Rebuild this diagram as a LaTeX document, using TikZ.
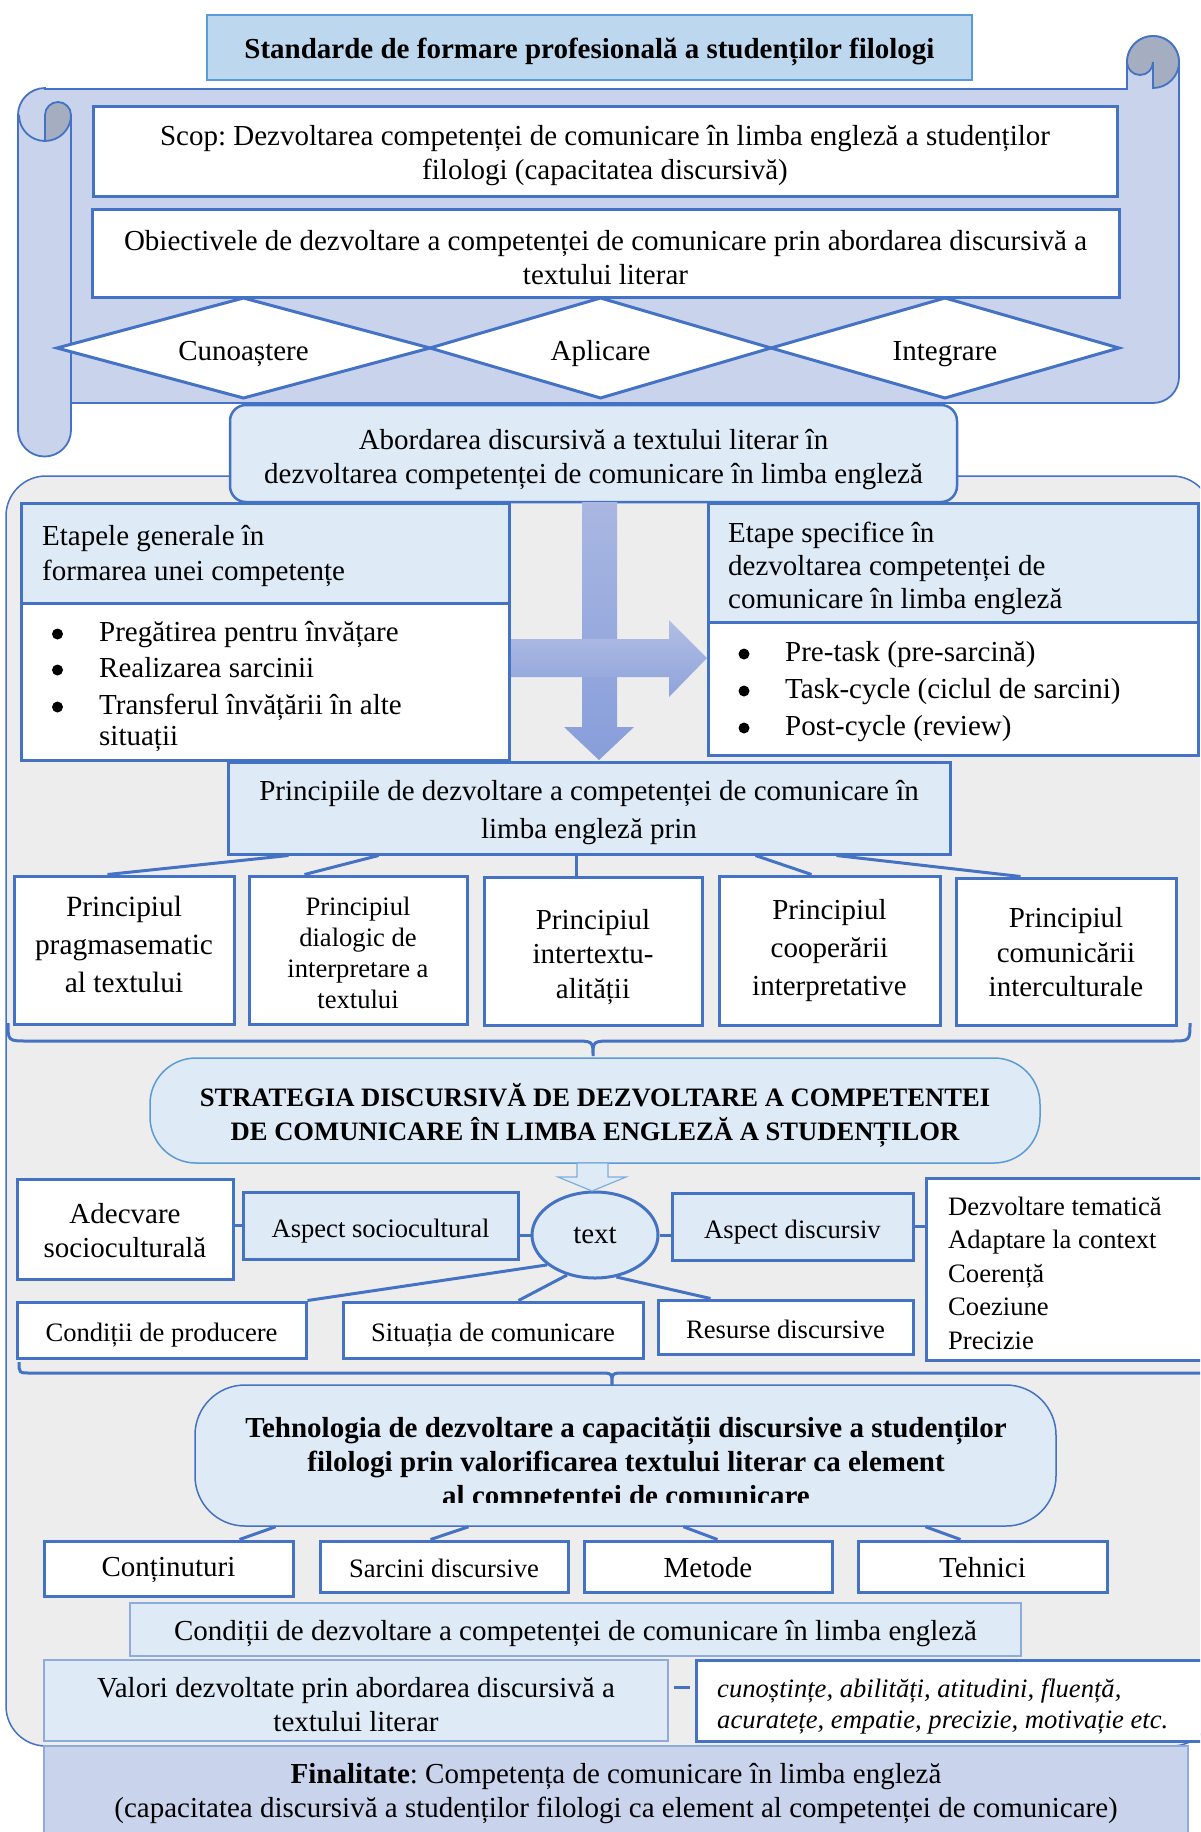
\documentclass[tikz,border=0pt]{standalone}
\usepackage{fontspec}
\setmainfont{Liberation Serif}
\usetikzlibrary{shapes.geometric,calc}

\definecolor{bl}{HTML}{4472C4}
\definecolor{lb}{HTML}{DEEAF6}
\definecolor{titlefill}{HTML}{BDD7EE}
\definecolor{scrollfill}{HTML}{C9D4EC}
\definecolor{curlgray}{HTML}{A5AEC1}
\definecolor{panelgray}{HTML}{EDEDED}
\definecolor{softbl}{HTML}{8FAADC}
\definecolor{midbl}{HTML}{5B9BD5}
\definecolor{arrtop}{HTML}{A9B7E1}
\definecolor{arrbot}{HTML}{889EDA}

\frenchspacing
\newcommand\fontA{\fontsize{29}{34}\selectfont}
\newcommand\fontB{\fontsize{26.6}{33}\selectfont}

% box given by its corners, with its text set slightly below the centre:
% [text offset], style, name, x1, y1, x2, y2, text
\newcommand\boxat[8][4.5]{%
  \pgfmathsetmacro\bxcx{(#4+#6)/2}%
  \pgfmathsetmacro\bxcy{(#5+#7)/2}%
  \pgfmathsetmacro\bxw{#6-#4}%
  \pgfmathsetmacro\bxh{#7-#5}%
  \node[#2, minimum width=\bxw pt, minimum height=\bxh pt] (#3) at (\bxcx,\bxcy) {};
  \node[#2, draw=none, fill=none, minimum width=0pt, minimum height=0pt] (#3-label) at (\bxcx,{\bxcy+(#1)}) {#8};}

% diamond given by its centre, half width and half height: name, cx, cy, hw, hh, text
\newcommand\diamat[6]{%
  \draw[diabox] ($(#2,#3)+(-#4,0)$) -- ($(#2,#3)+(0,-#5)$) -- ($(#2,#3)+(#4,0)$) -- ($(#2,#3)+(0,#5)$) -- cycle;
  \node[inner sep=0pt, font=\fontA] (#1) at (#2,#3+6) {#6};}

% bulleted line: name, bullet x, text x, baseline y, text
\newcommand\bulletline[5]{%
  \fill (#2,#4-7) circle[radius=5.5pt];
  \node[txt] (#1) at (#3,#4) {#5};}

\begin{document}
\begin{tikzpicture}[x=1pt,y=-1pt,
  wbox/.style={draw=bl, line width=3pt, fill=white, inner sep=0pt, align=center, font=\fontA},
  lbox/.style={wbox, fill=lb},
  thinbox/.style={lbox, draw=softbl, line width=1.5pt},
  diabox/.style={draw=bl, line width=3pt, fill=white, line join=miter},
  link/.style={draw=bl, line width=3pt},
  txt/.style={inner sep=0pt, align=left, font=\fontA, anchor=base west}]

\useasboundingbox (0,0) rectangle (1200,1832);
\clip (0,0) rectangle (1200,1832);

% ---------- scroll ----------
\draw[fill=scrollfill, draw=bl, line width=1.8pt]
  (45,89) -- (1127,89) -- (1127,62) arc[start angle=180, end angle=0, radius=26pt]
  -- (1179,377) arc[start angle=0, end angle=-90, radius=26pt]
  -- (71,403) -- (71,430) arc[start angle=0, end angle=-180, radius=26.5pt]
  -- (18,115) arc[start angle=180, end angle=90, radius=27pt] -- cycle;
% right curl
\draw[fill=curlgray, draw=bl, line width=1.8pt]
  (1127,62) arc[start angle=180, end angle=0, radius=26pt]
  arc[start angle=0, end angle=-90, radius=26pt] -- (1153,62)
  arc[start angle=0, end angle=-180, radius=13pt] -- cycle;
% left curl
\draw[fill=curlgray, draw=bl, line width=1.8pt]
  (45,141) -- (45,115) arc[start angle=180, end angle=0, radius=13pt]
  arc[start angle=0, end angle=-90, radius=26pt] -- cycle;
\draw[draw=bl, line width=1.8pt] (45,141) arc[start angle=-90, end angle=-180, radius=26pt];
\draw[draw=bl, line width=1.8pt] (71,115) -- (71,403);

\boxat[4.7]{wbox, fill=titlefill, draw=midbl, line width=2pt, font=\bfseries\fontsize{29}{34}\selectfont}{title}{207}{15}{972}{80}{Standarde de formare profesională a studenților filologi}

\boxat{wbox}{scop}{93}{106}{1117}{196}{Scop: Dezvoltarea competenței de comunicare în limba engleză a studenților\\filologi (capacitatea discursivă)}
\boxat{wbox}{obj}{92}{209}{1119}{297}{Obiectivele de dezvoltare a competenței de comunicare prin abordarea discursivă a\\textului literar}

\diamat{d1}{243.5}{348}{186.5}{50}{Cunoaștere}
\diamat{d2}{600.5}{348}{170.5}{50}{Aplicare}
\diamat{d3}{945}{348}{174}{50}{Integrare}

% ---------- grey panel ----------
\draw[fill=panelgray, draw=bl, line width=1.5pt, rounded corners=40pt]
  (6,1746) -- (6,476) -- (1212,476) -- (1212,1746) -- cycle;

\boxat[6]{lbox, rounded corners=16pt, line width=2.5pt}{abord}{230}{405}{957}{502}{Abordarea discursivă a textului literar în\\dezvoltarea competenței de comunicare în limba engleză}

% ---------- cross arrow ----------
\shade[top color=arrtop, bottom color=arrbot]
  (582,502) -- (617,502) -- (617,727) -- (634,727) -- (599,760) -- (564,727) -- (582,727) -- cycle;
\shade[top color=arrtop!90!white, bottom color=arrbot!80!arrtop]
  (509,639) -- (669,639) -- (669,620) -- (707,658) -- (669,697) -- (669,677) -- (509,677) -- cycle;

% ---------- stage blocks ----------
\boxat{lbox}{genhead}{21}{503}{509}{603}{}
\boxat{wbox}{genbody}{21}{603}{509}{760}{}
\node[inner sep=0pt, align=left, font=\fontsize{29}{35}\selectfont, anchor=west] (gh) at (42,556)
  {Etapele generale în\\formarea unei competențe};
\bulletline{gb1}{57.5}{99}{641}{Pregătirea pentru învățare}
\bulletline{gb2}{57.5}{99}{677}{Realizarea sarcinii}
\bulletline{gb3}{57.5}{99}{714}{Transferul învățării în alte}
\node[txt] (gb4) at (99,745) {situații};

\boxat{lbox}{spechead}{708}{503}{1198}{622}{}
\boxat{wbox}{specbody}{708}{622}{1198}{755}{}
\node[txt] (sh1) at (728,542) {Etape specifice în};
\node[txt] (sh2) at (728,575) {dezvoltarea competenței de};
\node[txt] (sh3) at (728,608) {comunicare în limba engleză};
\bulletline{sb1}{744}{785}{661}{Pre-task (pre-sarcină)}
\bulletline{sb2}{744}{785}{698}{Task-cycle (ciclul de sarcini)}
\bulletline{sb3}{744}{785}{735}{Post-cycle (review)}

% ---------- principles ----------
\boxat{lbox, font=\fontsize{29}{38}\selectfont}{princ}{228}{762}{950}{854}{Principiile de dezvoltare a competenței de comunicare în\\limba engleză prin}

\boxat[-6]{wbox, font=\fontsize{29.4}{38}\selectfont}{p1}{14}{876}{234}{1024}{Principiul\\pragmasematic\\al textului}
\boxat[3]{wbox, font=\fontsize{26.6}{31}\selectfont}{p2}{249}{876}{467}{1024}{Principiul\\dialogic de\\interpretare a\\textului}
\boxat[6]{wbox, font=\fontsize{29}{34.5}\selectfont}{p3}{484}{877}{702}{1025}{Principiul\\intertextu-\\alității}
\boxat[0]{wbox, font=\fontsize{29}{38}\selectfont}{p4}{719}{876}{940}{1025}{Principiul\\cooperării\\interpretative}
\boxat[1]{wbox, font=\fontsize{29}{34.5}\selectfont}{p5}{956}{878}{1176}{1025}{Principiul\\comunicării\\interculturale}

\draw[link] ($(princ.south west)+(62,0)$) -- ($(p1.north west)+(95,0)$);
\draw[link] ($(princ.south west)+(152,0)$) -- ($(p2.north west)+(57,0)$);
\draw[link] ($(princ.south west)+(350,0)$) -- ($(p3.north west)+(94,0)$);
\draw[link] ($(princ.south west)+(529,0)$) -- ($(p4.north west)+(94,0)$);
\draw[link] ($(princ.south west)+(610,0)$) -- ($(p5.north west)+(66,0)$);

% brace under the principles
\draw[draw=bl, line width=3pt]
  (8,1023) .. controls (8,1041) .. (28,1041) -- (573,1041)
  .. controls (593,1041) .. (593,1056) .. controls (593,1041) .. (613,1041)
  -- (1170,1041) .. controls (1190,1041) .. (1190,1023);

% ---------- strategy ----------
\boxat{lbox, rounded corners=46pt, draw=midbl, line width=1.5pt, font=\bfseries\fontsize{26.6}{34}\selectfont}{strat}{150}{1058}{1040}{1163}{STRATEGIA DISCURSIVĂ DE DEZVOLTARE A COMPETENTEI\\DE COMUNICARE ÎN LIMBA ENGLEZĂ A STUDENȚILOR}

\node[ellipse, draw=bl, line width=3pt, fill=lb, minimum width=126pt, minimum height=86pt, inner sep=0pt, font=\fontA] (t) at (595,1235) {text};

\draw[fill=lb, draw=midbl!80, line width=1.2pt]
  (577,1163) -- (608,1163) -- (608,1177) -- (626,1177) -- (592,1191)
  -- (558,1177) -- (577,1177) -- cycle;

\boxat[2]{wbox}{adec}{17}{1179}{233}{1279}{Adecvare\\socioculturală}
\boxat[6]{lbox, font=\fontB}{asoc}{243}{1192}{518}{1259}{Aspect sociocultural}
\boxat[6]{lbox, font=\fontB}{adis}{672}{1193}{913}{1260}{Aspect discursiv}
\boxat{wbox}{lst}{926}{1178}{1212}{1360}{}
\node[txt, font=\fontB] (l1) at (948,1215) {Dezvoltare tematică};
\node[txt, font=\fontB] (l2) at (948,1248) {Adaptare la context};
\node[txt, font=\fontB] (l3) at (948,1282) {Coerență};
\node[txt, font=\fontB] (l4) at (948,1315) {Coeziune};
\node[txt, font=\fontB] (l5) at (948,1349) {Precizie};

\boxat[5]{wbox, font=\fontB}{cprod}{17}{1302}{306}{1358}{Condiții de producere}
\boxat[5]{wbox, font=\fontB}{sit}{343}{1302}{643}{1358}{Situația de comunicare}
\boxat[2]{wbox, font=\fontB}{res}{658}{1300}{913}{1354}{Resurse discursive}

\draw[link] (asoc.west) -- (asoc.west -| adec.east);
\draw[link] (t.west) -- (t.west -| asoc.east);
\draw[link] (t.east) -- (t.east -| adis.west);
\draw[link] (adis.east) -- (adis.east -| lst.west);
\draw[link] (t.212) -- (cprod.north east);
\draw[link] (t.235) -- ($(sit.north west)+(177,0)$);
\draw[link] (t.297) -- ($(res.north west)+(54,0)$);

% brace under the strategy components
\draw[draw=bl, line width=3pt]
  (19,1362) .. controls (19,1373) .. (31,1373) -- (600,1373)
  .. controls (612,1373) .. (612,1385) .. controls (612,1373) .. (624,1373)
  -- (1205,1373);

% ---------- technology ----------
\boxat{lbox, rounded corners=50pt, line width=1.5pt}{tech}{195}{1385}{1056}{1526}{}
\begin{scope}
  \clip (195,1390) rectangle (1056,1502);
  \node[inner sep=0pt, align=center, font=\bfseries\fontsize{29}{34}\selectfont] (techtxt) at (626,1465)
    {Tehnologia de dezvoltare a capacității discursive a studenților\\filologi prin valorificarea textului literar ca element\\al competenței de comunicare};
\end{scope}

\boxat[1.5]{wbox}{c1}{44}{1541}{293}{1596}{Conținuturi}
\boxat[1.5]{wbox, font=\fontB}{c2}{320}{1541}{568}{1592}{Sarcini discursive}
\boxat[1.5]{wbox}{c3}{584}{1541}{832}{1592}{Metode}
\boxat[1.5]{wbox}{c4}{858}{1541}{1107}{1592}{Tehnici}

\draw[link] ($(tech.south)+(-350,0)$) -- ($(c1.north west)+(197,0)$);
\draw[link] ($(tech.south)+(-157,0)$) -- ($(c2.north west)+(112,0)$);
\draw[link] ($(tech.south)+(58,0)$) -- ($(c3.north west)+(135,0)$);
\draw[link] ($(tech.south)+(300,0)$) -- ($(c4.north west)+(104,0)$);

\boxat{thinbox}{cond}{130}{1603}{1021}{1656}{Condiții de dezvoltare a competenței de comunicare în limba engleză}
\boxat{thinbox}{val}{44}{1660}{668}{1741}{Valori dezvoltate prin abordarea discursivă a\\textului literar}
\boxat{wbox}{vlist}{696}{1660}{1212}{1741}{}
\node[txt, font=\itshape\fontB] (v1) at (717,1697) {cunoștințe, abilități, atitudini, fluență,};
\node[txt, font=\itshape\fontB] (v2) at (717,1728) {acuratețe, empatie, precizie, motivație etc.};
\draw[link] ($(val.east)+(5,-13)$) -- ($(vlist.west)+(-5,-13)$);

\boxat{thinbox, fill=scrollfill}{final}{44}{1746}{1188}{1845}{}
\node[inner sep=0pt, align=center, font=\fontA] (finaltxt) at (616,1794)
  {\textbf{Finalitate}: Competența de comunicare în limba engleză\\(capacitatea discursivă a studenților filologi ca element al competenței de comunicare)};

\end{tikzpicture}
\end{document}
